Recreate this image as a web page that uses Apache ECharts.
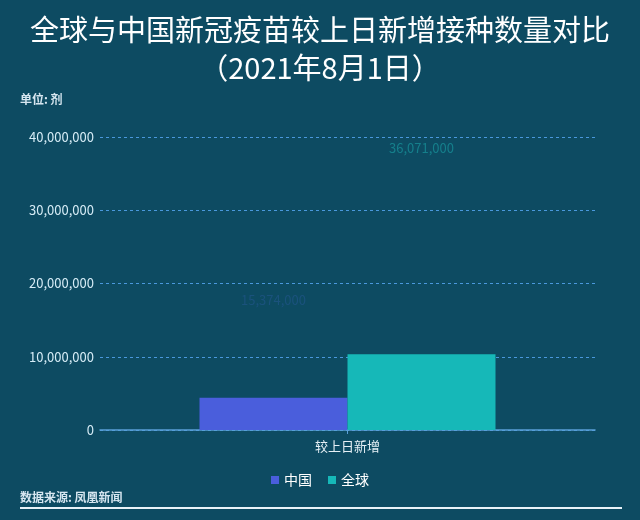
<!DOCTYPE html>
<html><head><meta charset="utf-8">
<script src="https://cdn.jsdelivr.net/npm/echarts@6/dist/echarts.min.js"></script>
<style>html,body{margin:0;padding:0;background:#0d4b62;}#c{width:640px;height:520px;}</style>
</head><body><div id="c"></div>
<script>
// Data
var categories = ['较上日新增'];
var seriesNames = ['中国', '全球'];
// bar heights as captured in the frame (animation in progress)
var chinaShown = [4410000];
var globalShown = [10330000];
// value labels (final values) shown faintly
var chinaFinal = [15374000];
var globalFinal = [36071000];
var yTicks = [0, 10000000, 20000000, 30000000, 40000000];

var fmt = function (v) { return String(Math.round(v)).replace(/\B(?=(\d{3})+(?!\d))/g, ','); };
var FONT = '"Noto Sans CJK SC", "Noto Sans", sans-serif';
var chart = echarts.init(document.getElementById('c'));
chart.setOption({
  animation: false,
  backgroundColor: '#0d4b62',
  textStyle: { fontFamily: FONT },
  title: {
    text: '全球与中国新冠疫苗较上日新增接种数量对比\n（2021年8月1日）',
    left: 'center', top: 6,
    textStyle: { color: '#ffffff', fontSize: 29, fontWeight: 'normal', lineHeight: 38, fontFamily: FONT }
  },
  graphic: [
    { type: 'text', left: 20, top: 93, style: { text: '单位: 剂', fill: '#d6e6f0', font: 'bold 12px ' + FONT } },
    { type: 'text', left: 20, top: 491, style: { text: '数据来源: 凤凰新闻', fill: '#d6e6f0', font: 'bold 12px ' + FONT } },
    { type: 'rect', shape: { x: 20, y: 507, width: 602, height: 2 }, style: { fill: '#e8f2f8' } }
  ],
  legend: {
    data: seriesNames, bottom: 28, left: 'center',
    itemWidth: 8, itemHeight: 8, itemGap: 16, icon: 'rect',
    textStyle: { color: '#ffffff', fontSize: 14, fontFamily: FONT }
  },
  grid: { left: 100, right: 45, top: 137, bottom: 90, containLabel: false },
  xAxis: [
    {
      type: 'category', data: categories,
      axisLine: { lineStyle: { color: '#5aa0d8', width: 1.5 } },
      axisTick: { show: true, alignWithLabel: true, length: 4, lineStyle: { color: '#5aa0d8' } },
      axisLabel: { color: '#e6f0f6', fontSize: 13, margin: 10, fontFamily: FONT }
    },
    { type: 'category', data: categories, show: false, position: 'bottom' }
  ],
  yAxis: {
    type: 'value', min: yTicks[0], max: yTicks[yTicks.length - 1], interval: 10000000,
    axisLine: { show: false }, axisTick: { show: false },
    axisLabel: { color: '#d6ecf6', fontSize: 13, margin: 6, formatter: fmt, fontFamily: FONT },
    splitLine: { lineStyle: { color: '#4a98dc', type: [3, 3], width: 1 } }
  },
  series: [
    { name: seriesNames[0], type: 'bar', xAxisIndex: 0, data: chinaShown, barWidth: 148, barGap: '0%', itemStyle: { color: '#4a5edc' } },
    { name: seriesNames[1], type: 'bar', xAxisIndex: 0, data: globalShown, barWidth: 148, barGap: '0%', itemStyle: { color: '#16b8b8' } },
    { name: 'labelChina', type: 'bar', xAxisIndex: 1, data: chinaFinal, barWidth: 148, barGap: '0%', itemStyle: { color: 'rgba(0,0,0,0)' }, silent: true,
      label: { show: true, position: 'top', distance: 11, formatter: function (p) { return fmt(p.value); }, color: 'rgba(80,110,230,0.2)', fontSize: 13 } },
    { name: 'labelGlobal', type: 'bar', xAxisIndex: 1, data: globalFinal, barWidth: 148, barGap: '0%', itemStyle: { color: 'rgba(0,0,0,0)' }, silent: true,
      label: { show: true, position: 'top', distance: 11, formatter: function (p) { return fmt(p.value); }, color: 'rgba(30,190,190,0.45)', fontSize: 13 } }
  ]
});
</script></body></html>
